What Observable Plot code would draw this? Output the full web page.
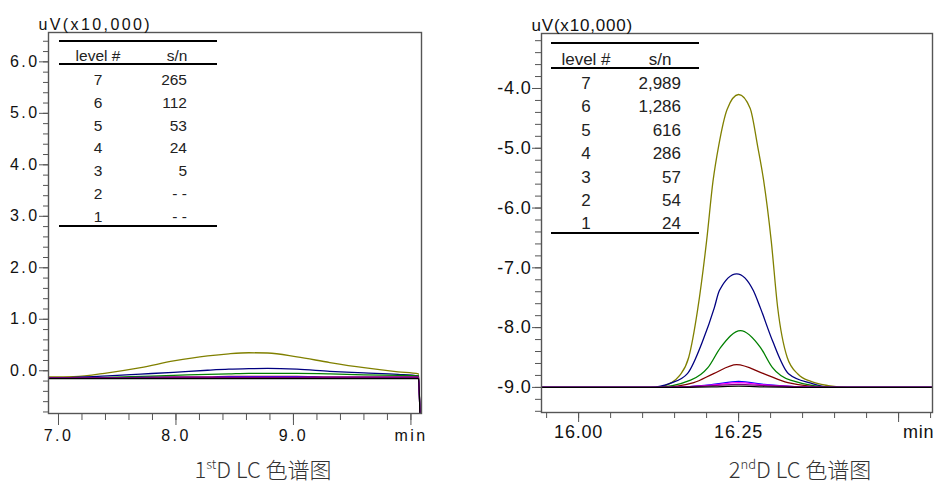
<!DOCTYPE html>
<html><head><meta charset="utf-8">
<script src="https://cdn.jsdelivr.net/npm/d3@7"></script>
<script src="https://cdn.jsdelivr.net/npm/@observablehq/plot@0.6"></script>
<style>
body{margin:0;background:#fff;width:938px;height:484px;position:relative;overflow:hidden;font-family:"Liberation Sans",Arial,sans-serif;}
.panel{position:absolute;top:0;}
.panel svg{overflow:visible;background:transparent;}
#left svg text{letter-spacing:2.4px;}
#right svg text{letter-spacing:0.8px;}
.cell{position:absolute;white-space:nowrap;line-height:1;transform:translateY(-50%);color:#222;}
.rule{position:absolute;height:2px;background:#000;}
.cap{position:absolute;top:454px;line-height:28px;font-family:"Noto Sans CJK SC",sans-serif;font-weight:300;font-size:22px;color:#333;transform:translateX(-50%);white-space:nowrap;}
.cap sup{font-size:13px;vertical-align:9px;line-height:0;}
</style></head><body>
<div id="left" class="panel" style="left:0px"></div>
<div id="right" class="panel" style="left:470px"></div>
<div id="tables"></div>
<div class="cap" style="left:263px">1<sup>st</sup>D LC 色谱图</div>
<div class="cap" style="left:800px">2<sup>nd</sup>D LC 色谱图</div>
<script>
// ---------- data ----------
const yAxisTitle = "uV(x10,000)";
const levels = ["7","6","5","4","3","2","1"];
const snLeft = ["265","112","53","24","5","- -","- -"];
const snRight = ["2,989","1,286","616","286","57","54","24"];
const tableHeader = ["level #","s/n"];
const colors = ["#808000","#000080","#008000","#800000","#0000ff","#ff00ff","#800080","#000000"];

// 1st D (left) – retention time (min) and signal (uV x10,000)
const xL = [6.915, 7.13, 7.42, 7.70, 7.98, 8.27, 8.45, 8.62, 8.78, 9.03, 9.31, 9.60, 9.89, 10.065, 10.08];
const yL7 = [-0.12,-0.115,-0.04, 0.06, 0.19, 0.29, 0.33, 0.35, 0.345, 0.27, 0.16, 0.06,-0.02,-0.06,-1.2];
const yL6 = [-0.14,-0.13,-0.10,-0.065,-0.03, 0.01, 0.03, 0.04, 0.045, 0.03,-0.01,-0.04,-0.07,-0.10,-1.2];
const yL5 = [-0.14,-0.14,-0.13,-0.11,-0.09,-0.07,-0.06,-0.05,-0.05,-0.05,-0.06,-0.08,-0.09,-0.10,-1.2];
const yL4 = [-0.14,-0.14,-0.14,-0.13,-0.12,-0.12,-0.11,-0.11,-0.11,-0.11,-0.12,-0.12,-0.12,-0.12,-1.2];
const yL3 = [-0.14,-0.14,-0.14,-0.13,-0.13,-0.13,-0.12,-0.12,-0.12,-0.12,-0.13,-0.13,-0.13,-0.13,-1.2];
const yL2 = [-0.14,-0.14,-0.14,-0.14,-0.13,-0.13,-0.13,-0.13,-0.13,-0.13,-0.13,-0.13,-0.13,-0.13,-1.2];
const yL1 = [-0.14,-0.14,-0.14,-0.14,-0.14,-0.14,-0.14,-0.14,-0.14,-0.14,-0.14,-0.14,-0.14,-0.14,-1.2];
const yL0 = [-0.15,-0.15,-0.15,-0.15,-0.15,-0.15,-0.15,-0.15,-0.15,-0.15,-0.15,-0.15,-0.15,-0.15,-1.2];

// 2nd D (right)
const xR7 = [15.942,16.12,16.145,16.158,16.172,16.186,16.20,16.21,16.219,16.232,16.25,16.268,16.28,16.289,16.301,16.311,16.326,16.343,16.363,16.39,16.42,16.553];
const yR7 = [-9.0,-9.0,-8.92,-8.8,-8.5,-7.7,-6.55,-5.55,-4.95,-4.35,-4.1,-4.33,-4.98,-5.53,-6.55,-7.66,-8.5,-8.78,-8.9,-8.97,-9.0,-9.0];
const xR6 = [15.942,16.112,16.144,16.170,16.194,16.212,16.220,16.247,16.273,16.284,16.303,16.328,16.363,16.394,16.553];
const yR6 = [-9.0,-9.0,-8.93,-8.77,-8.22,-7.67,-7.38,-7.1,-7.38,-7.67,-8.22,-8.77,-8.93,-9.0,-9.0];
const xR5 = [15.942,16.12,16.175,16.202,16.222,16.253,16.284,16.303,16.331,16.40,16.553];
const yR5 = [-9.0,-9.0,-8.88,-8.67,-8.33,-8.05,-8.33,-8.67,-8.88,-9.0,-9.0];
const xR4 = [15.942,16.128,16.18,16.211,16.247,16.289,16.327,16.394,16.553];
const yR4 = [-9.0,-9.0,-8.92,-8.77,-8.62,-8.77,-8.92,-9.0,-9.0];
const xR3 = [15.942,16.14,16.21,16.25,16.29,16.38,16.553];
const yR3 = [-9.0,-9.0,-8.95,-8.90,-8.95,-9.0,-9.0];
const yR2 = [-9.0,-9.0,-8.96,-8.92,-8.96,-9.0,-9.0];
const yR1 = [-9.0,-9.0,-8.97,-8.95,-8.97,-9.0,-9.0];
const yR0 = [-9.0,-9.0,-8.99,-8.98,-8.99,-9.0,-9.0];

// axes
const xMajorL = [7, 8, 9, 10];
const xLabelsL = ["7.0","8.0","9.0","min"];
const yMajorL = [0,1,2,3,4,5,6];
const yLabelsL = ["0.0","1.0","2.0","3.0","4.0","5.0","6.0"];
const xMajorR = [16.00, 16.25];
const xLabelsR = ["16.00","16.25"];
const xUnitR = [16.50];
const yMajorR = [-9,-8,-7,-6,-5,-4];
const yLabelsR = ["-9.0","-8.0","-7.0","-6.0","-5.0","-4.0"];

// ---------- drawing ----------
const toRows = (xs, ys) => xs.map((x, i) => ({x, y: ys[i]}));
const seriesL = [yL7,yL6,yL5,yL4,yL3,yL2,yL1,yL0].map(ys => toRows(xL, ys));
const seriesR = [[xR7,yR7],[xR6,yR6],[xR5,yR5],[xR4,yR4],[xR3,yR3],[xR3,yR2],[xR3,yR1],[xR3,yR0]].map(([xs,ys]) => toRows(xs, ys));

const xMinorL = d3.range(35, 51).map(i => i / 5);
const yMinorL = d3.range(-4, 33).map(i => i / 5);
const xMinorR = d3.range(319, 332).map(i => i / 20);
const yMinorR = d3.range(-47, -15).map(i => i / 5);

function lineMarks(series){
  return series.map((rows, i) => Plot.line(rows, {x:"x", y:"y", stroke: colors[i], strokeWidth:1.3, curve:"monotone-x", clip:true}));
}

const left = Plot.plot({
  width: 470, height: 460,
  marginLeft: 48, marginRight: 49, marginTop: 32, marginBottom: 47,
  style: {fontFamily: "Liberation Sans, Arial, sans-serif", fontSize: "16px", color: "#111", background: "transparent", overflow: "visible"},
  x: {domain: [6.915, 10.09], label: null},
  y: {domain: [-0.83, 6.57], label: null},
  marks: [
    ...lineMarks(seriesL),
    Plot.frame({stroke: "#555", strokeWidth: 1.4}),
    Plot.axisY(yMinorL, {tickSize: 5, tickFormat: () => "", stroke: "#555", label: null}),
    Plot.axisY(yMajorL, {tickSize: 9, tickPadding: 0, tickFormat: d => yLabelsL[yMajorL.indexOf(d)], stroke: "#555", fill: "#111", fontSize: 16, label: null}),
    Plot.axisX(xMinorL, {tickSize: 7, tickFormat: () => "", stroke: "#555", label: null}),
    Plot.axisX(xMajorL, {tickSize: 12, tickPadding: 4, tickFormat: d => xLabelsL[xMajorL.indexOf(d)], stroke: "#555", fill: "#111", fontSize: 16, label: null}),
    Plot.text([yAxisTitle], {frameAnchor: "top-left", text: d => d, textAnchor: "start", lineAnchor: "bottom", dx: -10, dy: -3, fontSize: 16, fill: "#111"})
  ]
});
document.getElementById("left").append(left);

const right = Plot.plot({
  width: 468, height: 460,
  marginLeft: 71, marginRight: 6, marginTop: 33, marginBottom: 48,
  style: {fontFamily: "Liberation Sans, Arial, sans-serif", fontSize: "18px", color: "#111", background: "transparent", overflow: "visible"},
  x: {domain: [15.942, 16.553], label: null},
  y: {domain: [-9.42, -3.08], label: null},
  marks: [
    ...lineMarks(seriesR),
    Plot.frame({stroke: "#555", strokeWidth: 1.4}),
    Plot.axisY(yMinorR, {tickSize: 6, tickFormat: () => "", stroke: "#555", label: null}),
    Plot.axisY(yMajorR, {tickSize: 9, tickPadding: 1, tickFormat: d => yLabelsR[yMajorR.indexOf(d)], stroke: "#555", fill: "#111", fontSize: 18, label: null}),
    Plot.axisX(xMinorR, {tickSize: 6, tickFormat: () => "", stroke: "#555", label: null}),
    Plot.axisX(xMajorR, {tickSize: 10, tickPadding: 3, tickFormat: d => xLabelsR[xMajorR.indexOf(d)], stroke: "#555", fill: "#111", fontSize: 18, label: null}),
    Plot.axisX(xUnitR, {tickSize: 10, tickFormat: () => "", stroke: "#555", label: null}),
    Plot.text(xUnitR, {x: d => d, frameAnchor: "bottom", text: () => "min", lineAnchor: "top", dy: 13, dx: 20, fontSize: 18, fill: "#111"}),
    Plot.text([yAxisTitle], {frameAnchor: "top-left", text: d => d, textAnchor: "start", lineAnchor: "bottom", dx: -10, dy: -3, fontSize: 17, fill: "#111"})
  ]
});
document.getElementById("right").append(right);

// ---------- tables ----------
function table(cfg, sn){
  const host = document.getElementById("tables");
  const add = (cls, style, text) => { const d = document.createElement("div"); d.className = cls; Object.assign(d.style, style); if (text != null) d.textContent = text; host.append(d); return d; };
  const w = (cfg.x1 - cfg.x0) + "px";
  [cfg.top, cfg.mid, cfg.bottom].forEach(y => add("rule", {left: cfg.x0 + "px", top: (y - 1) + "px", width: w}));
  const fs = cfg.fs + "px";
  const c1 = add("cell", {left: cfg.c1 + "px", top: cfg.head + "px", fontSize: fs}, tableHeader[0]); c1.style.transform = "translate(-50%,-50%)";
  const c2 = add("cell", {left: cfg.c2h + "px", top: cfg.head + "px", fontSize: fs}, tableHeader[1]); c2.style.transform = "translate(-50%,-50%)";
  levels.forEach((lv, i) => {
    const y = cfg.row0 + i * cfg.step;
    const a = add("cell", {left: cfg.c1 + "px", top: y + "px", fontSize: fs}, lv); a.style.transform = "translate(-50%,-50%)";
    const b = add("cell", {left: cfg.c2 + "px", top: y + "px", fontSize: fs}, sn[i]); b.style.transform = "translate(-100%,-50%)";
  });
}
table({x0: 59, x1: 217, top: 41, mid: 64, bottom: 226, head: 56, row0: 80, step: 22.8, c1: 98, c2: 187, c2h: 177, fs: 15.5}, snLeft);
table({x0: 551, x1: 699, top: 43, mid: 68, bottom: 233, head: 59, row0: 83, step: 23.4, c1: 586, c2: 681, c2h: 660, fs: 17}, snRight);
</script>
</body></html>
